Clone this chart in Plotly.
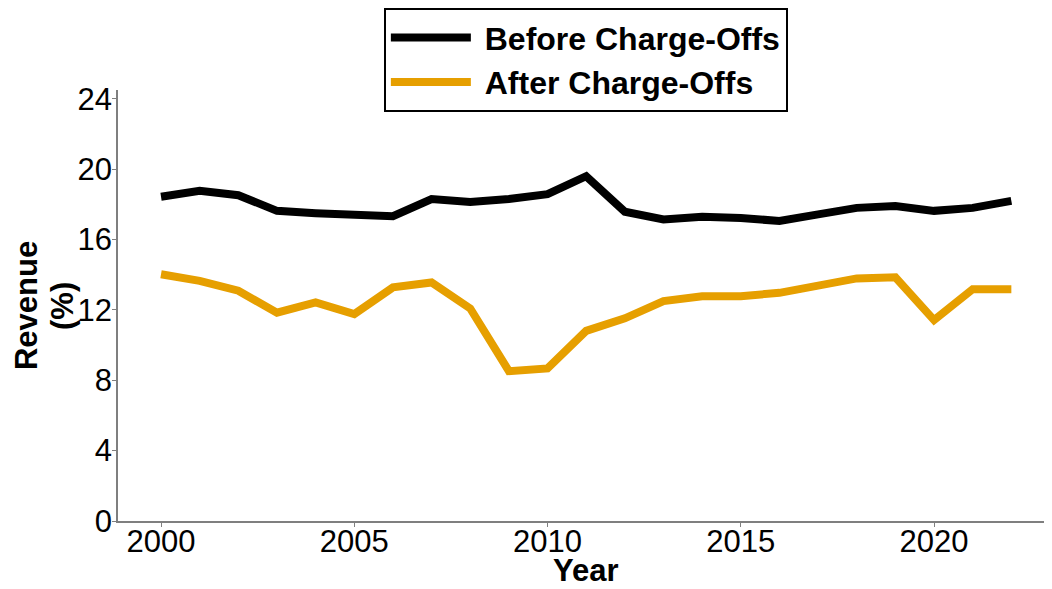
import plotly.graph_objects as go

years = list(range(2000, 2023))
before = [18.43, 18.77, 18.52, 17.63, 17.5, 17.4, 17.33, 18.3, 18.14, 18.3, 18.58, 19.6,
          17.58, 17.14, 17.3, 17.23, 17.05, 17.43, 17.8, 17.9, 17.63, 17.8, 18.2]
after = [14.03, 13.65, 13.09, 11.84, 12.43, 11.76, 13.28, 13.56, 12.08, 8.52, 8.67, 10.81,
         11.52, 12.5, 12.78, 12.78, 12.97, 13.37, 13.79, 13.85, 11.42, 13.18, 13.18]
series_names = ["Before Charge-Offs", "After Charge-Offs"]
x_ticks = [2000, 2005, 2010, 2015, 2020]
y_ticks = [0, 4, 8, 12, 16, 20, 24]

font_family = "Liberation Sans, Arial, Helvetica, sans-serif"

fig = go.Figure()
fig.add_trace(go.Scatter(x=years, y=before, mode="lines", name="\u00a0" + series_names[0],
                         line=dict(color="#000000", width=8)))
fig.add_trace(go.Scatter(x=years, y=after, mode="lines", name="\u00a0" + series_names[1],
                         line=dict(color="#E69F00", width=8)))

fig.update_layout(
    width=1044, height=581,
    margin=dict(l=110, r=2, t=82, b=68, autoexpand=False),
    paper_bgcolor="white", plot_bgcolor="white",
    font=dict(family=font_family, color="black", size=30),
    legend=dict(
        x=0.502, y=1.19, xanchor="center", yanchor="top",
        bordercolor="black", borderwidth=2, bgcolor="white",
        font=dict(size=32, family=font_family, weight="bold"),
        itemwidth=80, tracegroupgap=0,
    ),
    xaxis=dict(
        range=[1998.887, 2023.0], tickvals=x_ticks, automargin=False,
        showline=True, linecolor="#7f7f7f", linewidth=1.5,
        ticks="outside", tickcolor="#7f7f7f", ticklen=4,
        showgrid=False, zeroline=False,
        tickfont=dict(size=31), ticklabelstandoff=-12,
    ),
    yaxis=dict(
        range=[0, 24.5], tickvals=y_ticks, automargin=False,
        showline=True, linecolor="#7f7f7f", linewidth=1.5,
        ticks="outside", tickcolor="#7f7f7f", ticklen=4,
        showgrid=False, zeroline=False,
        tickfont=dict(size=31), ticklabelstandoff=-6,
    ),
    annotations=[
        dict(text="<b>Year</b>", xref="paper", yref="paper", x=0.502, y=-0.1578,
             xanchor="center", yanchor="bottom", showarrow=False, borderpad=0,
             font=dict(size=31)),
        dict(text="<b>Revenue</b>", xref="paper", yref="paper", x=-0.0987, y=0.4988,
             xanchor="center", yanchor="middle", showarrow=False, textangle=-90,
             font=dict(size=31)),
        dict(text="<b>(%)</b>", xref="paper", yref="paper", x=-0.0601, y=0.4988,
             xanchor="center", yanchor="middle", showarrow=False, textangle=-90,
             font=dict(size=31)),
    ],
)

fig.write_html("out.html")
